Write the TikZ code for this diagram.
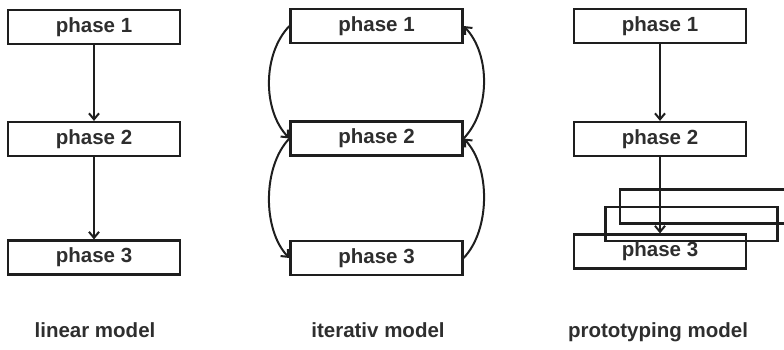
\documentclass[tikz,border=0pt]{standalone}
\usepackage{fontspec}
\setmainfont{Liberation Sans}
\usetikzlibrary{arrows.meta}
\definecolor{ink}{HTML}{1E1E1E}
\definecolor{txt}{HTML}{2E2E2E}
\tikzset{
  phasebox/.style={draw=ink, line width=2.2pt, rectangle, minimum width=172pt, minimum height=34pt, inner sep=0pt, text=txt, font=\bfseries\fontsize{20.5}{20.5}\selectfont},
  protobox/.style={draw=ink, line width=2.2pt, rectangle, minimum width=172pt, minimum height=34pt, inner sep=0pt},
  conn/.style={draw=ink, line width=2pt, -{Straight Barb[length=6pt,width=10pt,line width=2pt]}},
  caption/.style={text=txt, font=\bfseries\fontsize{20.5}{20.5}\selectfont, anchor=base, inner sep=0pt}
}
\begin{document}
\begin{tikzpicture}[x=1pt,y=-1pt]
\useasboundingbox (0,0) rectangle (784,349);
\begin{scope}
\clip (0,0) rectangle (784,349);
% linear model
\node[phasebox] (l1) at (94,27) {phase 1};
\node[phasebox] (l2) at (94,139) {phase 2};
\node[phasebox] (l3) at (94,257.5) {phase 3};
\draw[conn] (l1.south) -- (l2.north);
\draw[conn] (l2.south) -- (l3.north);
% iterative model
\node[phasebox] (m1) at (376.5,26) {phase 1};
\node[phasebox] (m2) at (376.5,138.5) {phase 2};
\node[phasebox] (m3) at (376.5,258) {phase 3};
\draw[conn] (m1.west) .. controls +(-27,28) and +(-27,-28) .. (m2.west);
\draw[conn] (m2.west) .. controls +(-27,28) and +(-27,-28) .. (m3.west);
\draw[conn] (m2.east) .. controls +(27,-28) and +(27,28) .. (m1.east);
\draw[conn] (m3.east) .. controls +(27,-28) and +(27,28) .. (m2.east);
% prototyping model
\node[phasebox] (p1) at (660,26) {phase 1};
\node[phasebox] (p2) at (660,139) {phase 2};
\node[protobox] (pa) at (706,206.5) {};
\node[protobox] (pb) at (691.5,224) {};
\node[phasebox] (p3) at (660,251.5) {phase 3};
\draw[conn] (p1.south) -- (p2.north);
\draw[conn] (p2.south) -- (p3.north);
\end{scope}
% captions
\node[caption] (c1) at (95,337) {linear model};
\node[caption] (c2) at (378,337) {iterativ model};
\node[caption] (c3) at (658,337) {prototyping model};
\end{tikzpicture}
\end{document}
